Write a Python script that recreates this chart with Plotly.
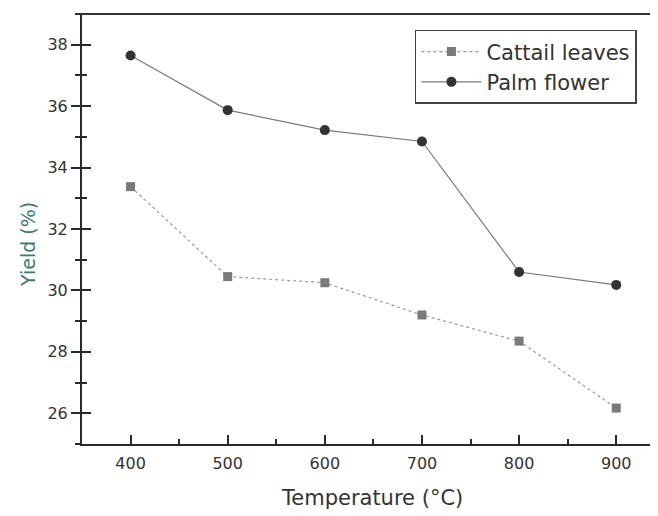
import plotly.graph_objects as go

temperature = [400, 500, 600, 700, 800, 900]
cattail_leaves = [33.38, 30.45, 30.25, 29.2, 28.35, 26.17]
palm_flower = [37.65, 35.87, 35.22, 34.85, 30.6, 30.18]
y_ticks = [26, 28, 30, 32, 34, 36, 38]
x_ticks = [400, 500, 600, 700, 800, 900]

FONT = "DejaVu Sans, sans-serif"
AX = "#2a2a2a"
TXT = "#333333"

fig = go.Figure()
fig.add_trace(go.Scatter(
    x=temperature, y=cattail_leaves, name="Cattail leaves",
    mode="lines+markers",
    line=dict(color="#9a9a9a", width=1.2, dash="dot"),
    marker=dict(symbol="square", size=9, color="#7a7a7a"),
))
fig.add_trace(go.Scatter(
    x=temperature, y=palm_flower, name="Palm flower",
    mode="lines+markers",
    line=dict(color="#7a7a7a", width=1.2),
    marker=dict(symbol="circle", size=10, color="#333333"),
))

# page body has an 8px margin, so figure is 650x508 and placed at (8,8)
fig.update_layout(
    width=650, height=508,
    margin=dict(l=74, r=0, t=6, b=72),
    paper_bgcolor="white", plot_bgcolor="white",
    font=dict(family=FONT, color=TXT),
    showlegend=True,
    legend=dict(
        x=0.578, y=0.963, xanchor="left", yanchor="top",
        bordercolor="#444444", borderwidth=1.5,
        font=dict(size=21, family=FONT, color=TXT),
        bgcolor="white", tracegroupgap=0, itemwidth=60,
    ),
    xaxis=dict(
        range=[350, 943], tickvals=x_ticks, ticktext=[str(v) for v in x_ticks],
        showgrid=False, zeroline=False,
        showline=True, linecolor=AX, linewidth=2,
        ticks="inside", ticklen=9, tickwidth=1.5, tickcolor=AX,
        minor=dict(dtick=50, tick0=350, ticks="inside", ticklen=5, tickwidth=1.5, tickcolor=AX, showgrid=False),
        tickfont=dict(size=16, color=TXT),
        ticklabelstandoff=4,
    ),
    yaxis=dict(
        range=[25, 39], tickvals=y_ticks, ticktext=[str(v) for v in y_ticks],
        showgrid=False, zeroline=False,
        showline=True, linecolor=AX, linewidth=2,
        ticks="outside", ticklen=9, tickwidth=1.5, tickcolor=AX,
        minor=dict(dtick=1, tick0=25, ticks="outside", ticklen=5, tickwidth=1.5, tickcolor=AX, showgrid=False),
        tickfont=dict(size=16, color=TXT),
    ),
    yaxis2=dict(
        range=[25, 39], overlaying="y", side="left", anchor="x",
        tickvals=y_ticks, showticklabels=False,
        showgrid=False, zeroline=False, showline=False,
        ticks="inside", ticklen=9, tickwidth=1.5, tickcolor=AX,
        minor=dict(dtick=1, tick0=25, ticks="inside", ticklen=5, tickwidth=1.5, tickcolor=AX, showgrid=False),
    ),
)
# invisible trace to activate yaxis2
fig.add_trace(go.Scatter(x=[temperature[0]], y=[palm_flower[0]], yaxis="y2",
                         mode="markers", marker=dict(opacity=0), showlegend=False, hoverinfo="skip"))

fig.add_shape(type="line", xref="paper", yref="paper", x0=-0.005, x1=1, y0=1, y1=1,
              line=dict(color="#333333", width=2))

fig.add_annotation(text="Temperature (°C)", xref="paper", yref="paper",
                   x=0.503, y=-0.125, xanchor="center", yanchor="middle", showarrow=False,
                   font=dict(size=21, family=FONT, color=TXT))
fig.add_annotation(text="Yield (%)", xref="paper", yref="paper",
                   x=-0.094, y=0.465, xanchor="center", yanchor="middle", showarrow=False,
                   textangle=-90, font=dict(size=19, family=FONT, color="#3d7a6e"))

fig.write_html("out.html")
